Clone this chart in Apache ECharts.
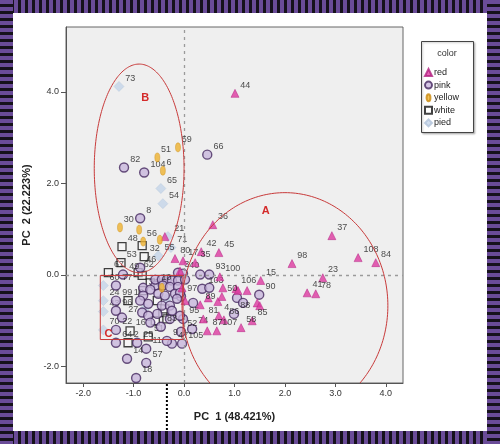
<!DOCTYPE html>
<html><head><meta charset="utf-8">
<script src="https://cdn.jsdelivr.net/npm/echarts@6/dist/echarts.min.js"></script>
<style>
html,body{margin:0;padding:0;background:#fff;}
#wrap{position:relative;width:500px;height:444px;background:#fff;}
#c{position:absolute;left:0;top:0;width:500px;height:444px;}
.st{position:absolute;pointer-events:none;}
</style></head><body>
<div id="wrap">
<div id="c"></div>
<div class="st" style="left:0;top:0;width:500px;height:13px;background:repeating-linear-gradient(90deg,#6a4c98 0 4px,#16121c 4px 7px);"></div>
<div class="st" style="left:0;top:431px;width:500px;height:13px;background:repeating-linear-gradient(90deg,#6a4c98 0 4px,#16121c 4px 7px);"></div>
<div class="st" style="left:0;top:0;width:13px;height:444px;background:repeating-linear-gradient(180deg,#6a4c98 0 4px,#16121c 4px 7px);"></div>
<div class="st" style="left:487px;top:0;width:13px;height:444px;background:repeating-linear-gradient(180deg,#6a4c98 0 4px,#16121c 4px 7px);"></div>
</div>
<script>
// ---- data ----
const xTicks = [-2, -1, 0, 1, 2, 3, 4];
const yTicks = [-2, 0, 2, 4];
const legendNames = ['red', 'pink', 'yellow', 'white', 'pied'];

const redLabels = ['44','36','42','45','37','98','108','84','23','41','78','15','106','100','80','17','35','50','89','81','4','86','85','58','87','107','','','','','','','','','','',''];
const redX = [1.01,0.57,0.34,0.69,2.93,2.14,3.45,3.80,2.75,2.44,2.61,1.52,1.03,0.71,-0.18,-0.02,0.22,0.75,0.32,0.38,0.69,0.79,1.35,1.13,0.46,0.65,-0.38,0.77,1.07,1.25,0.67,1.45,1.50,0.48,-0.04,0.02,-0.08];
const redY = [3.97,1.10,0.51,0.49,0.86,0.25,0.38,0.27,-0.06,-0.39,-0.41,-0.12,-0.30,-0.04,0.36,0.31,0.27,-0.47,-0.65,-0.96,-0.89,-0.98,-1.00,-1.15,-1.22,-1.22,0.84,-0.28,-0.34,-0.34,-0.58,-0.61,-0.67,-0.50,-0.28,-0.56,0.09];

const pinkLabels = ['66','82','104','8','90','93','3','40','46','49','97','103','95','88','74','52','47','105','9','83','11','14','57','18','77','99','96','27','22','64','25','10',
  '','','','','','','','','','','','','','','','','','','','','','','','','','','','','','','','',''];
const pinkX = [0.46,-1.19,-0.79,-0.87,1.49,0.50,-0.12,-0.02,-0.87,-1.21,-0.06,0.36,-0.02,0.99,0.16,-0.06,-0.24,-0.04,-0.34,-0.46,-0.75,-1.13,-0.75,-0.95,-1.35,-1.35,-1.35,-1.23,-1.35,-1.35,-0.93,-0.57,
  -0.57,-0.44,-0.34,-0.24,-0.12,-0.81,-0.67,-0.42,-0.28,-0.12,-0.51,-0.38,-0.18,-0.08,-0.81,-0.87,-0.71,-0.44,-0.28,-0.83,-0.71,-0.53,-0.28,-0.08,-0.67,0.02,-0.14,-0.24,0.32,0.50,0.18,1.05,1.17];
const pinkY = [2.63,2.35,2.24,1.24,-0.43,0.01,0.05,0.03,0.16,0.01,-0.47,-0.30,-0.96,-0.85,-1.18,-1.24,-1.50,-1.50,-1.44,-1.13,-1.61,-1.83,-1.92,-2.25,-0.23,-0.56,-0.78,-0.93,-1.20,-1.48,-1.48,-0.23,
  -0.10,-0.10,-0.10,-0.12,-0.12,-0.28,-0.32,-0.23,-0.26,-0.26,-0.41,-0.45,-0.41,-0.39,-0.45,-0.56,-0.63,-0.67,-0.67,-0.82,-0.89,-0.85,-0.96,-0.89,-1.04,-0.10,-0.52,-0.78,0.01,-0.28,-0.61,-0.50,-0.61];

const yellowLabels = ['59','51','6','30','56','','',''];
const yellowX = [-0.12,-0.53,-0.42,-1.27,-0.81,-0.89,-0.48,-0.44];
const yellowY = [2.79,2.57,2.28,1.04,0.73,0.99,0.77,-0.28];

const whiteLabels = ['48','67','62','53','32','12','16','2','51','33','','','','','','','',''];
const whiteX = [-1.23,-1.50,-0.91,-1.25,-0.79,-1.11,-1.07,-1.11,-0.71,-0.81,-0.83,-0.67,-0.53,-0.42,-0.57,-0.38,-0.34,-0.83];
const whiteY = [0.62,0.05,0.05,0.27,0.40,-0.56,-1.22,-1.48,-1.35,-0.34,-0.01,-0.17,-0.56,-0.82,-1.00,-0.74,-0.96,0.64];

const piedLabels = ['73','65','54','21','71','55','60','24','43','70','',''];
const piedX = [-1.29,-0.46,-0.42,-0.32,-0.26,-0.51,-1.60,-1.60,-1.60,-1.60,-0.34,-0.77];
const piedY = [4.12,1.89,1.56,0.84,0.60,0.42,-0.23,-0.56,-0.80,-1.20,-0.52,-0.72];

// annotation shapes (data units)
const ellipseA = {cx: 2.0, cy: -0.67, rx: 2.04, ry: 2.47};
const ellipseB = {cx: -0.89, cy: 2.33, rx: 0.89, ry: 2.28};
const rectC = {x0: -1.66, x1: -0.02, y0: -0.01, y1: -1.41};
const tagA = [1.62, 1.39], tagB = [-0.77, 3.86], tagC = [-1.50, -1.28];
const dotLineX = -0.34;

const X_MIN = -2.34, X_MAX = 4.34, Y_MIN = -2.36, Y_MAX = 5.42;
const FONT = 'Arial, "Liberation Sans", sans-serif';

const chart = echarts.init(document.getElementById('c'), null, {renderer: 'canvas'});

function mk(name, xs, ys, ls, symbol, size, style, z) {
  return {
    type: 'scatter', name, symbol, symbolSize: size, itemStyle: style, z: z || 2,
    symbolKeepAspect: false,
    data: xs.map((x, i) => ({name: ls[i], value: [x, ys[i]]})),
    label: {show: true, position: 'right', distance: 1, offset: [0, -8], fontSize: 9,
      color: '#222', fontFamily: FONT, formatter: p => p.data.name},
    emphasis: {disabled: true}
  };
}

const option = {
  animation: false,
  backgroundColor: 'transparent',
  grid: {left: 66, top: 27, right: 97, bottom: 61, show: true,
    backgroundColor: '#efefef', borderColor: '#666', borderWidth: 1},
  legend: {
    orient: 'vertical', left: 424, top: 67, padding: 0,
    itemWidth: 7, itemHeight: 7, itemGap: 1.6,
    textStyle: {fontSize: 9, lineHeight: 11, color: '#222', fontFamily: FONT, padding: [0, 0, 0, -3]},
    data: legendNames, selectedMode: false
  },
  xAxis: {
    type: 'value', min: X_MIN, max: X_MAX,
    name: 'PC  1 (48.421%)', nameLocation: 'middle', nameGap: 28,
    nameTextStyle: {fontSize: 11, fontWeight: 'bold', color: '#222', fontFamily: FONT},
    splitLine: {show: false},
    axisLine: {show: true, onZero: false, lineStyle: {color: '#555'}},
    axisTick: {show: true, length: 4, customValues: xTicks, lineStyle: {color: '#555'}},
    axisLabel: {fontSize: 9, color: '#333', margin: 6, fontFamily: FONT,
      customValues: xTicks, formatter: v => v.toFixed(1)}
  },
  yAxis: {
    type: 'value', min: Y_MIN, max: Y_MAX,
    name: 'PC  2 (22.223%)', nameLocation: 'middle', nameGap: 31, nameRotate: 90,
    nameTextStyle: {fontSize: 11, fontWeight: 'bold', color: '#222', fontFamily: FONT},
    splitLine: {show: false},
    axisLine: {show: true, onZero: false, lineStyle: {color: '#555'}},
    axisTick: {show: true, length: 5, customValues: yTicks, lineStyle: {color: '#555'}},
    axisLabel: {fontSize: 9, color: '#333', margin: 7, fontFamily: FONT,
      customValues: yTicks, formatter: v => v.toFixed(1)}
  },
  series: [
    {type: 'scatter', data: [], z: 1, silent: true,
      markLine: {silent: true, symbol: 'none', label: {show: false},
        lineStyle: {color: '#9a9a9a', type: [3, 4], width: 1.3},
        data: [{xAxis: 0}, {yAxis: 0}]}},
    mk('white', whiteX, whiteY, whiteLabels, 'rect', 8,
      {color: 'rgba(255,255,255,0.5)', borderColor: '#111', borderWidth: 1.3}, 3),
    mk('pink', pinkX, pinkY, pinkLabels, 'circle', 9,
      {color: '#c8b6dc', borderColor: '#45285f', borderWidth: 1.4}, 4),
    mk('red', redX, redY, redLabels, 'triangle', 8,
      {color: '#dd3aa0', borderColor: '#b02080', borderWidth: 0.6}, 5),
    mk('yellow', yellowX, yellowY, yellowLabels,
      'path://M0,9a5,9 0 1,0 10,0a5,9 0 1,0 -10,0z', [5, 9],
      {color: '#eeb230', borderColor: '#c98a10', borderWidth: 0.5}, 5),
    mk('pied', piedX, piedY, piedLabels, 'diamond', [10, 10],
      {color: '#c4d4e8', borderColor: '#b0c2da', borderWidth: 0.5}, 3)
  ]
};
chart.setOption(option);

function px(x, y) { return chart.convertToPixel({gridIndex: 0}, [x, y]); }

function ellipseSegs(e) {
  const segs = []; let cur = [];
  const N = 240;
  let prev = null, prevIn = false;
  for (let i = 0; i <= N; i++) {
    const t = i / N * 2 * Math.PI;
    const d = [e.cx + e.rx * Math.cos(t), e.cy + e.ry * Math.sin(t)];
    const inside = d[1] >= Y_MIN && d[1] <= Y_MAX && d[0] >= X_MIN && d[0] <= X_MAX;
    if (inside) {
      if (prev && !prevIn) {
        const f = (Y_MIN - prev[1]) / (d[1] - prev[1]);
        cur.push(px(prev[0] + f * (d[0] - prev[0]), Y_MIN));
      }
      cur.push(px(d[0], d[1]));
    } else if (prevIn) {
      const f = (Y_MIN - prev[1]) / (d[1] - prev[1]);
      cur.push(px(prev[0] + f * (d[0] - prev[0]), Y_MIN));
      segs.push(cur); cur = [];
    }
    prev = d; prevIn = inside;
  }
  if (cur.length > 1) segs.push(cur);
  return segs;
}

const red = '#c83a3a';
const graphics = [];
[ellipseA, ellipseB].forEach(e => {
  ellipseSegs(e).forEach(s => graphics.push({type: 'polyline', z: 10, silent: true,
    shape: {points: s}, style: {stroke: red, lineWidth: 1, fill: null}}));
});
const c0 = px(rectC.x0, rectC.y0), c1 = px(rectC.x1, rectC.y1);
graphics.push({type: 'rect', z: 10, silent: true,
  shape: {x: c0[0], y: c0[1], width: c1[0] - c0[0], height: c1[1] - c0[1]},
  style: {stroke: red, lineWidth: 1, fill: null}});
[[tagA, 'A'], [tagB, 'B'], [tagC, 'C']].forEach(([p, t]) => {
  const q = px(p[0], p[1]);
  graphics.push({type: 'text', z: 11, silent: true, x: q[0], y: q[1],
    style: {text: t, fill: '#d42a2a', font: 'bold 11px ' + FONT, align: 'center', verticalAlign: 'middle'}});
});
const bl = px(dotLineX, Y_MIN);
graphics.push({type: 'line', z: 12, silent: true,
  shape: {x1: bl[0], y1: bl[1] + 1, x2: bl[0], y2: 444},
  style: {stroke: '#000', lineWidth: 2, lineDash: [2, 2]}});
// legend frame and title
graphics.push({type: 'rect', z: 1, silent: true,
  shape: {x: 421.5, y: 41.5, width: 52, height: 91},
  style: {stroke: '#444', lineWidth: 1, fill: '#fff', shadowBlur: 2, shadowColor: 'rgba(0,0,0,0.25)', shadowOffsetX: 1, shadowOffsetY: 1}});
graphics.push({type: 'text', z: 2, silent: true, x: 447, y: 54,
  style: {text: 'color', fill: '#333', font: '9px ' + FONT, align: 'center', verticalAlign: 'middle'}});
chart.setOption({graphic: graphics});
</script>
</body></html>
